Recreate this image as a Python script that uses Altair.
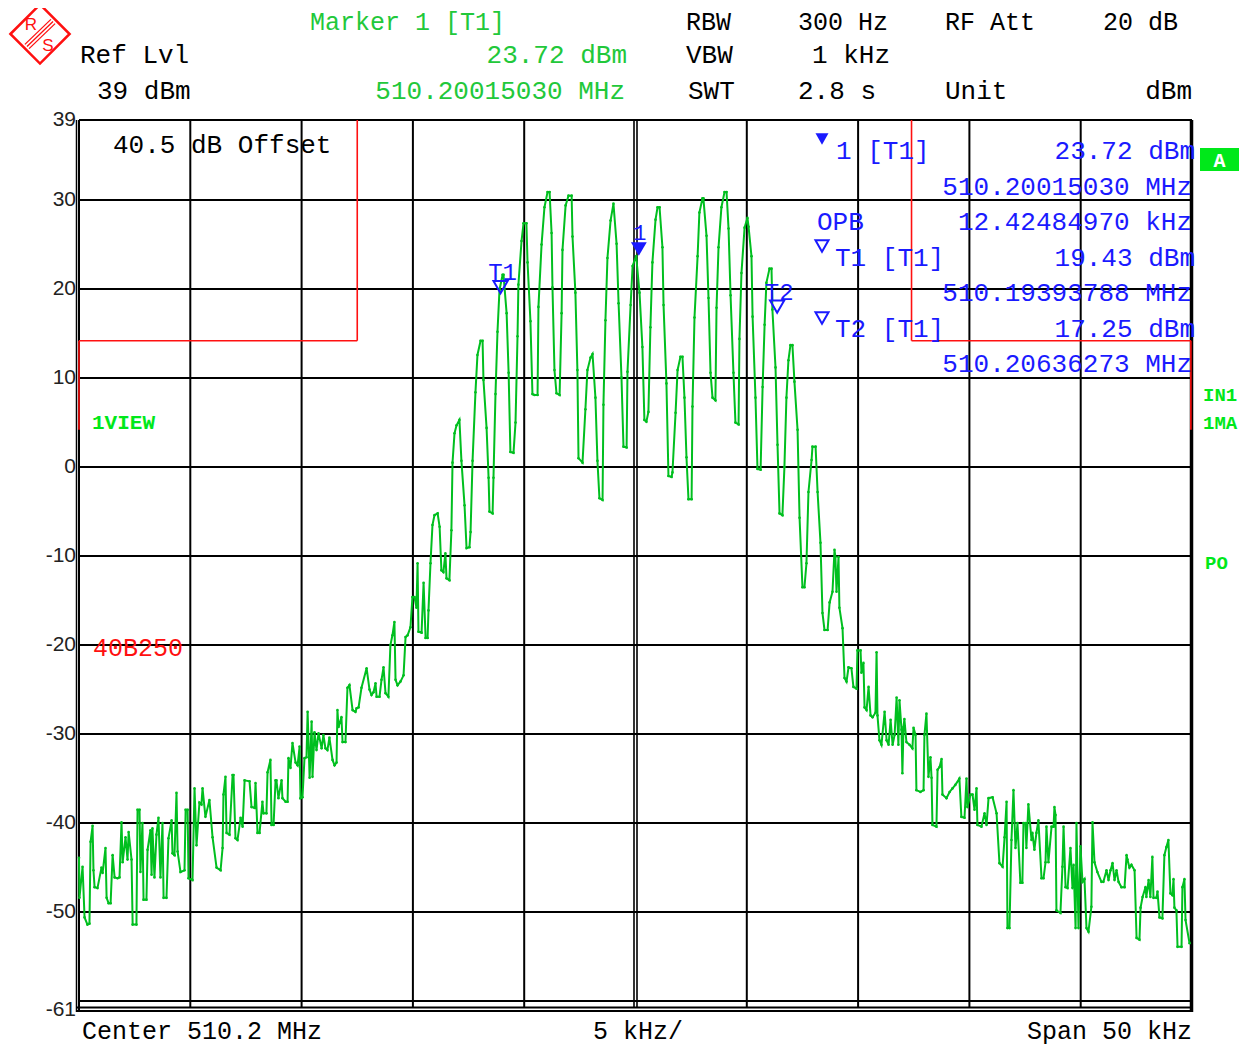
import altair as alt
import pandas as pd

# ---------------- data ----------------
# frequency offset from centre 510.2 MHz (kHz) and trace level (dBm)
freq_khz = [
    -25.00, -24.98, -24.84, -24.75, -24.62, -24.53, -24.48, -24.39, -24.35, -24.30,
    -24.17, -23.99, -23.94, -23.81, -23.76, -23.67, -23.58, -23.49, -23.40, -23.27,
    -23.18, -23.09, -23.04, -22.91, -22.82, -22.77, -22.64, -22.59, -22.42, -22.37,
    -22.28, -22.24, -22.15, -22.10, -21.97, -21.92, -21.79, -21.74, -21.70, -21.61,
    -21.52, -21.43, -21.34, -21.25, -21.20, -21.07, -20.98, -20.84, -20.80, -20.71,
    -20.62, -20.57, -20.44, -20.26, -20.21, -20.12, -20.08, -19.90, -19.81, -19.72,
    -19.59, -19.50, -19.45, -19.32, -19.14, -19.00, -18.82, -18.64, -18.55, -18.51,
    -18.42, -18.37, -18.24, -18.10, -18.06, -17.97, -17.88, -17.74, -17.65, -17.56,
    -17.34, -17.25, -17.11, -17.07, -16.98, -16.89, -16.76, -16.71, -16.58, -16.53,
    -16.40, -16.35, -16.26, -16.17, -16.13, -16.04, -15.90, -15.86, -15.72, -15.63,
    -15.59, -15.50, -15.41, -15.27, -15.18, -15.09, -15.05, -14.96, -14.87, -14.78,
    -14.73, -14.64, -14.55, -14.51, -14.42, -14.33, -14.24, -14.10, -14.02, -13.93,
    -13.84, -13.75, -13.61, -13.52, -13.43, -13.39, -13.34, -13.21, -13.16, -13.03,
    -12.94, -12.85, -12.71, -12.58, -12.53, -12.44, -12.31, -12.08, -11.95, -11.86,
    -11.77, -11.68, -11.63, -11.50, -11.41, -11.32, -11.23, -11.10, -11.01, -10.92,
    -10.83, -10.78, -10.69, -10.56, -10.42, -10.33, -10.24, -10.11, -10.02, -9.93,
    -9.84, -9.79, -9.75, -9.61, -9.52, -9.43, -9.34, -9.30, -9.21, -9.12,
    -9.03, -8.89, -8.80, -8.72, -8.63, -8.54, -8.49, -8.36, -8.27, -8.22,
    -8.13, -8.04, -7.91, -7.82, -7.68, -7.59, -7.46, -7.41, -7.32, -7.19,
    -7.10, -6.96, -6.87, -6.83, -6.69, -6.60, -6.56, -6.42, -6.38, -6.29,
    -6.20, -6.11, -5.97, -5.93, -5.79, -5.70, -5.62, -5.48, -5.39, -5.30,
    -5.26, -5.12, -5.03, -4.90, -4.85, -4.72, -4.63, -4.54, -4.40, -4.36,
    -4.22, -4.09, -3.95, -3.86, -3.77, -3.73, -3.64, -3.55, -3.41, -3.32,
    -3.28, -3.14, -3.01, -2.87, -2.83, -2.70, -2.61, -2.56, -2.38, -2.25,
    -2.16, -2.02, -1.93, -1.80, -1.71, -1.62, -1.48, -1.44, -1.35, -1.26,
    -1.12, -0.99, -0.85, -0.76, -0.63, -0.54, -0.40, -0.36, -0.22, -0.13,
    0.03, 0.18, 0.31, 0.40, 0.49, 0.58, 0.67, 0.76, 0.90, 0.99,
    1.08, 1.21, 1.26, 1.39, 1.48, 1.62, 1.66, 1.80, 1.89, 2.02,
    2.11, 2.20, 2.29, 2.38, 2.52, 2.56, 2.65, 2.79, 2.87, 3.01,
    3.05, 3.19, 3.28, 3.37, 3.46, 3.59, 3.64, 3.73, 3.86, 4.00,
    4.09, 4.18, 4.27, 4.40, 4.49, 4.63, 4.67, 4.76, 4.90, 5.03,
    5.08, 5.21, 5.26, 5.39, 5.48, 5.62, 5.71, 5.80, 5.88, 6.02,
    6.11, 6.15, 6.29, 6.38, 6.47, 6.60, 6.69, 6.78, 6.87, 6.96,
    7.05, 7.14, 7.28, 7.37, 7.50, 7.59, 7.68, 7.77, 7.91, 7.95,
    8.09, 8.18, 8.31, 8.40, 8.49, 8.63, 8.72, 8.85, 8.94, 8.98,
    9.03, 9.12, 9.16, 9.30, 9.39, 9.48, 9.57, 9.70, 9.79, 9.93,
    9.97, 10.11, 10.15, 10.24, 10.29, 10.38, 10.47, 10.56, 10.65, 10.78,
    10.83, 10.87, 10.96, 11.05, 11.19, 11.28, 11.37, 11.46, 11.55, 11.64,
    11.73, 11.81, 11.86, 11.95, 11.99, 12.04, 12.08, 12.17, 12.31, 12.44,
    12.49, 12.58, 12.62, 12.80, 12.94, 12.98, 13.07, 13.16, 13.25, 13.30,
    13.34, 13.52, 13.57, 13.66, 13.75, 13.79, 13.97, 14.11, 14.24, 14.37,
    14.55, 14.64, 14.78, 14.87, 14.91, 15.05, 15.14, 15.23, 15.32, 15.36,
    15.54, 15.68, 15.77, 15.86, 16.04, 16.22, 16.35, 16.49, 16.58, 16.67,
    16.71, 16.80, 16.89, 16.98, 17.07, 17.16, 17.29, 17.38, 17.43, 17.52,
    17.56, 17.65, 17.79, 17.83, 17.92, 18.01, 18.10, 18.24, 18.33, 18.42,
    18.46, 18.55, 18.69, 18.78, 18.82, 18.87, 18.91, 19.09, 19.18, 19.23,
    19.32, 19.41, 19.54, 19.63, 19.68, 19.77, 19.81, 19.90, 19.99, 20.08,
    20.17, 20.26, 20.35, 20.48, 20.53, 20.62, 20.75, 20.93, 21.02, 21.16,
    21.25, 21.34, 21.43, 21.52, 21.61, 21.70, 21.83, 21.97, 22.06, 22.10,
    22.19, 22.28, 22.42, 22.51, 22.64, 22.69, 22.78, 22.91, 22.95, 23.05,
    23.13, 23.22, 23.27, 23.40, 23.45, 23.54, 23.67, 23.76, 23.85, 23.94,
    24.03, 24.12, 24.17, 24.21, 24.30, 24.35, 24.53, 24.57, 24.66, 24.71,
    24.89,
]

level_dbm = [
    -43.9, -48.4, -44.9, -50.6, -51.4, -51.3, -42.1, -40.3, -45.3, -47.2,
    -47.3, -45.0, -45.6, -42.8, -48.4, -49.0, -49.0, -43.6, -46.1, -46.2,
    -46.1, -39.9, -44.4, -41.6, -44.1, -41.0, -44.1, -51.4, -51.4, -38.5,
    -38.5, -45.5, -40.0, -48.6, -48.6, -43.0, -40.8, -45.8, -40.6, -46.1,
    -41.3, -39.4, -46.1, -40.0, -48.4, -48.4, -41.7, -39.7, -43.4, -43.6,
    -36.6, -43.2, -45.5, -45.3, -38.5, -38.5, -46.2, -46.4, -36.1, -42.5,
    -37.7, -37.9, -36.1, -39.3, -37.4, -41.6, -45.0, -45.3, -42.8, -36.8,
    -34.8, -41.1, -41.3, -34.6, -34.6, -41.7, -41.9, -39.4, -40.4, -35.2,
    -35.3, -38.2, -38.3, -35.5, -41.1, -41.1, -37.6, -38.9, -38.9, -34.3,
    -32.9, -40.2, -40.2, -35.2, -35.2, -37.2, -35.2, -37.2, -37.6, -37.6,
    -32.7, -33.8, -31.0, -33.2, -33.5, -31.4, -37.2, -37.1, -32.7, -32.6,
    -27.5, -34.9, -28.6, -34.8, -29.8, -31.8, -29.9, -31.6, -30.1, -31.6,
    -31.8, -30.4, -32.9, -33.5, -33.2, -27.3, -29.2, -28.1, -30.9, -30.9,
    -24.8, -24.5, -27.3, -27.5, -27.1, -27.0, -24.8, -22.6, -25.0, -25.6,
    -25.3, -24.3, -25.8, -25.8, -23.9, -22.5, -25.4, -25.8, -20.0, -18.9,
    -17.4, -23.9, -24.5, -24.1, -23.4, -19.1, -18.9, -18.0, -14.6, -14.6,
    -15.8, -10.8, -18.5, -18.6, -13.0, -19.2, -19.2, -16.1, -10.8, -6.5,
    -5.4, -5.2, -6.7, -11.6, -11.8, -9.7, -12.5, -12.7, -7.1, 0.5,
    3.8, 4.7, 5.3, 0.7, -4.3, -9.1, -9.0, -7.3, 0.7, 8.4,
    12.6, 14.2, 14.2, 9.8, 4.4, -1.2, -5.0, -5.2, -1.2, 8.2,
    15.2, 19.9, 21.6, 21.6, 17.3, 10.6, 1.7, 1.6, 5.0, 14.7,
    20.5, 25.4, 27.4, 27.4, 23.0, 16.4, 8.2, 8.1, 8.1, 18.0,
    25.0, 29.2, 30.9, 30.9, 26.3, 20.2, 10.9, 8.3, 8.1, 17.3,
    24.4, 29.4, 30.5, 30.5, 25.9, 19.6, 10.9, 1.0, 0.5, 6.5,
    10.9, 12.3, 12.7, 7.8, 0.7, -3.5, -3.7, 7.0, 16.5, 23.5,
    27.7, 29.6, 25.1, 18.4, 10.1, 2.3, 2.2, 10.7, 18.2, 22.6,
    23.72, 19.6, 13.5, 5.3, 5.1, 6.2, 15.7, 23.0, 27.8, 29.2,
    29.2, 24.7, 18.2, 9.4, -1.0, -1.1, -0.6, 6.1, 10.9, 12.4,
    12.4, 7.8, 1.1, -3.6, -3.6, 6.8, 16.8, 23.7, 28.6, 30.2,
    30.2, 26.0, 19.0, 10.6, 7.8, 7.5, 17.9, 24.7, 29.2, 30.9,
    30.9, 26.8, 19.3, 10.6, 5.0, 4.8, 14.4, 21.8, 26.9, 28.0,
    27.0, 23.7, 16.9, 7.8, -0.2, -0.3, 9.0, 16.0, 20.7, 22.3,
    22.3, 17.7, 11.2, 2.5, -5.2, -5.4, 0.0, 7.8, 12.0, 13.7,
    13.7, 9.6, 4.2, -5.7, -13.5, -13.5, -10.8, -2.8, 0.8, 2.3,
    2.3, -2.8, -8.5, -16.4, -18.3, -18.3, -15.2, -14.0, -9.3, -10.1,
    -14.0, -10.1, -15.8, -18.1, -23.7, -24.1, -22.5, -22.6, -24.7, -24.9,
    -20.6, -20.6, -23.1, -22.0, -27.0, -27.3, -24.7, -27.9, -28.1, -27.6,
    -20.8, -27.9, -30.7, -31.2, -27.5, -30.7, -31.2, -28.4, -31.2, -30.1,
    -25.9, -31.2, -26.2, -29.5, -34.4, -29.2, -28.3, -30.9, -31.2, -31.6,
    -29.3, -30.1, -36.3, -36.5, -36.3, -30.1, -27.7, -34.8, -32.6, -34.9,
    -40.2, -40.4, -34.0, -33.7, -32.8, -36.8, -37.2, -36.5, -36.1, -35.7,
    -35.0, -39.3, -39.4, -35.0, -38.2, -36.8, -36.8, -38.5, -36.1, -40.2,
    -40.4, -38.9, -40.2, -37.2, -37.1, -38.9, -44.5, -44.9, -41.6, -37.6,
    -51.8, -51.8, -41.9, -36.3, -42.8, -40.0, -46.7, -46.7, -40.0, -40.0,
    -42.8, -37.9, -41.9, -41.1, -43.0, -41.1, -39.7, -46.2, -46.2, -44.4,
    -40.4, -44.4, -40.4, -40.4, -38.2, -39.1, -49.8, -50.1, -44.9, -40.4,
    -47.2, -47.3, -42.8, -47.3, -44.7, -51.8, -40.0, -51.8, -42.6, -46.6,
    -46.3, -51.8, -52.2, -49.4, -39.9, -44.4, -45.5, -46.6, -46.6, -45.3,
    -46.4, -45.3, -44.5, -46.4, -45.3, -46.6, -47.2, -47.2, -43.6, -44.1,
    -45.0, -44.7, -45.3, -52.9, -53.1, -49.5, -48.3, -47.2, -48.3, -46.4,
    -48.3, -43.8, -48.4, -48.4, -47.7, -50.6, -50.7, -43.6, -42.7, -41.9,
    -47.9, -48.1, -46.3, -49.5, -49.8, -53.9, -53.9, -47.2, -46.3, -50.9,
    -53.5,
]

# axis / grid values
y_tick_values = [39, 30, 20, 10, 0, -10, -20, -30, -40, -50, -61]
y_tick_labels = ["39", "30", "20", "10", "0", "-10", "-20", "-30", "-40", "-50", "-61"]
h_grid_levels = [30, 20, 10, 0, -10, -20, -30, -40, -50, -60]
v_grid_freqs = [-20, -15, -10, -5, 5, 10, 15, 20]

# markers (1, T1, T2)
marker_names = ["1", "T1", "T2"]
marker_freqs = [0.1503, -6.06212, 6.36273]
marker_levels = [23.72, 19.43, 17.25]

# red display-line segments (kHz, dBm)
red_x1 = [-25.0, -12.5, -25.0, 12.4, 12.4, 24.95]
red_x2 = [-12.5, -12.5, -25.0, 12.4, 24.95, 24.95]
red_y1 = [14.2, 39.0, 14.2, 39.0, 14.2, 14.2]
red_y2 = [14.2, 14.2, 4.2, 14.2, 14.2, 4.2]

# ---------------- styling ----------------
W, H = 1113, 890
MONO = "Liberation Mono"
SANS = "Liberation Sans"
TRACE_GREEN = "#00bf1f"
TEXT_GREEN = "#22c83a"
BRIGHT_GREEN = "#00e81a"
BLUE = "#1a1aff"
RED = "#ff1010"

xs = alt.Scale(domain=[-25, 25], nice=False, zero=False)
ys = alt.Scale(domain=[-61, 39], nice=False, zero=False)

one = pd.DataFrame({"k": [0]})


def txt(s, x, y, color="black", size=26, align="left", font=MONO, weight="normal"):
    return alt.Chart(pd.DataFrame({"t": [s]})).mark_text(
        align=align, baseline="middle", font=font, fontSize=size,
        color=color, fontWeight=weight
    ).encode(x=alt.value(x), y=alt.value(y), text="t:N")


def seg(x1, y1, x2, y2, color="black", width=2.0):
    return alt.Chart(one).mark_rule(color=color, strokeWidth=width).encode(
        x=alt.value(x1), y=alt.value(y1), x2=alt.value(x2), y2=alt.value(y2))


layers = []

# grid
layers.append(alt.Chart(pd.DataFrame({"lvl": h_grid_levels})).mark_rule(
    color="black", strokeWidth=2).encode(
    y=alt.Y("lvl:Q", scale=ys, axis=None), x=alt.value(0), x2=alt.value(W)))
layers.append(alt.Chart(pd.DataFrame({"f": v_grid_freqs})).mark_rule(
    color="black", strokeWidth=2).encode(
    x=alt.X("f:Q", scale=xs, axis=None), y=alt.value(0), y2=alt.value(888)))
for off in (-1.5, 1.5):
    layers.append(alt.Chart(pd.DataFrame({"f": [0.0]})).mark_rule(
        color="black", strokeWidth=1.6, xOffset=off).encode(
        x=alt.X("f:Q", scale=xs, axis=None), y=alt.value(0), y2=alt.value(888)))

# frame
layers += [
    seg(0, 0, W, 0, width=2),
    seg(0, 0, 0, 892, width=2),
    seg(-2.5, 0, -2.5, 892, width=1.5),
    seg(W - 0.5, 0, W - 0.5, 892, width=3.5),
    seg(-2.5, 887.5, W, 887.5, width=2),
    seg(-2.5, 891, W, 891, width=2),
]

# red display lines
red_df = pd.DataFrame({"x1": red_x1, "x2": red_x2, "y1": red_y1, "y2": red_y2})
layers.append(alt.Chart(red_df).mark_rule(color=RED, strokeWidth=1.6).encode(
    x=alt.X("x1:Q", scale=xs, axis=None), x2="x2:Q",
    y=alt.Y("y1:Q", scale=ys, axis=None), y2="y2:Q"))

# y tick labels
layers.append(alt.Chart(pd.DataFrame({"v": y_tick_values, "lab": y_tick_labels})).mark_text(
    align="right", baseline="middle", font=SANS, fontSize=21, color="#222222").encode(
    y=alt.Y("v:Q", scale=ys, axis=None), x=alt.value(-3), text="lab:N"))

# trace
trace_df = pd.DataFrame({"idx": list(range(len(freq_khz))), "f": freq_khz, "lvl": level_dbm})
layers.append(alt.Chart(trace_df).mark_line(
    color=TRACE_GREEN, strokeWidth=2,
    point=alt.OverlayMarkDef(color=TRACE_GREEN, size=7, filled=True)).encode(
    x=alt.X("f:Q", scale=xs, axis=None),
    y=alt.Y("lvl:Q", scale=ys, axis=None),
    order="idx:Q"))

# markers on trace
mk = pd.DataFrame({"name": marker_names, "f": marker_freqs, "lvl": marker_levels})
layers.append(alt.Chart(mk.iloc[[0]]).mark_point(
    shape="triangle-down", filled=True, color=BLUE, size=250, opacity=1, yOffset=-7).encode(
    x=alt.X("f:Q", scale=xs, axis=None), y=alt.Y("lvl:Q", scale=ys, axis=None)))
layers.append(alt.Chart(mk.iloc[[1, 2]]).mark_point(
    shape="triangle-down", filled=False, color=BLUE, size=200, strokeWidth=2, opacity=1,
    yOffset=-7).encode(
    x=alt.X("f:Q", scale=xs, axis=None), y=alt.Y("lvl:Q", scale=ys, axis=None)))
layers.append(alt.Chart(mk.iloc[[0]]).mark_text(
    font=MONO, fontSize=22, color=BLUE, dx=1, dy=-23, baseline="middle").encode(
    x=alt.X("f:Q", scale=xs, axis=None), y=alt.Y("lvl:Q", scale=ys, axis=None), text="name:N"))
layers.append(alt.Chart(mk.iloc[[1, 2]]).mark_text(
    font=MONO, fontSize=24, color=BLUE, dx=2, dy=-21, baseline="middle").encode(
    x=alt.X("f:Q", scale=xs, axis=None), y=alt.Y("lvl:Q", scale=ys, axis=None), text="name:N"))

# marker info block (blue)
layers.append(alt.Chart(one).mark_point(shape="triangle-down", filled=True, color=BLUE,
                                        size=170, opacity=1).encode(x=alt.value(743), y=alt.value(19)))
for yy in (126, 198):
    layers.append(alt.Chart(one).mark_point(shape="triangle-down", filled=False, color=BLUE,
                                            size=170, strokeWidth=2, opacity=1).encode(
        x=alt.value(743), y=alt.value(yy)))
layers += [
    txt("1 [T1]", 757, 31, BLUE),
    txt("23.72 dBm", 1116, 31, BLUE, align="right"),
    txt("510.20015030 MHz", 1113, 67, BLUE, align="right"),
    txt("OPB", 738, 102, BLUE),
    txt("12.42484970 kHz", 1113, 102, BLUE, align="right"),
    txt("T1 [T1]", 756, 138, BLUE),
    txt("19.43 dBm", 1116, 138, BLUE, align="right"),
    txt("510.19393788 MHz", 1113, 173, BLUE, align="right"),
    txt("T2 [T1]", 756, 209, BLUE),
    txt("17.25 dBm", 1116, 209, BLUE, align="right"),
    txt("510.20636273 MHz", 1113, 244, BLUE, align="right"),
]

# in-plot labels
layers += [
    txt("40.5 dB Offset", 34, 25, "black"),
    txt("1VIEW", 13, 303, BRIGHT_GREEN, size=21, weight="bold"),
    txt("40B250", 14, 528, RED, size=25),
]

# right side status labels
layers.append(alt.Chart(one).mark_rect(color=BRIGHT_GREEN).encode(
    x=alt.value(1121), x2=alt.value(1160), y=alt.value(28), y2=alt.value(51)))
layers += [
    txt("A", 1140.5, 41, "white", size=20, align="center", weight="bold"),
    txt("IN1", 1124, 275, BRIGHT_GREEN, size=19, weight="bold"),
    txt("1MA", 1124, 303, BRIGHT_GREEN, size=19, weight="bold"),
    txt("PO", 1126, 443, BRIGHT_GREEN, size=19, weight="bold"),
]

# header
layers += [
    txt("Marker 1 [T1]", 231, -98, TEXT_GREEN, size=25),
    txt("RBW", 607, -98, size=25), txt("300 Hz", 719, -98, size=25),
    txt("RF Att", 866, -98, size=25), txt("20 dB", 1024, -98, size=25),
    txt("Ref Lvl", 1, -65),
    txt("23.72 dBm", 548, -65, TEXT_GREEN, align="right"),
    txt("VBW", 607, -65), txt("1 kHz", 811, -65, align="right"),
    txt("39 dBm", 18, -29),
    txt("510.20015030 MHz", 546, -29, TEXT_GREEN, align="right"),
    txt("SWT", 609, -29), txt("2.8 s", 719, -29),
    txt("Unit", 866, -29), txt("dBm", 1113, -29, align="right"),
]

# footer
layers += [
    txt("Center 510.2 MHz", 3, 911, size=25),
    txt("5 kHz/", 514, 911, size=25),
    txt("Span 50 kHz", 1113, 911, size=25, align="right"),
]

# R&S logo
layers.append(alt.Chart(one).mark_point(shape="diamond", filled=False, color=RED, size=3500,
                                        strokeWidth=2.5, opacity=1).encode(
    x=alt.value(-39), y=alt.value(-86)))
layers += [
    seg(-54.1, -75.6, -28.1, -100.6, RED, 1.3),
    seg(-52.0, -73.5, -26.0, -98.5, RED, 1.3),
    seg(-49.9, -71.4, -23.9, -96.4, RED, 1.3),
    txt("R", -48, -95, RED, size=17, align="center", font=SANS),
    txt("S", -31, -74, RED, size=17, align="center", font=SANS),
]

chart = alt.layer(*layers).properties(
    width=W, height=H,
    padding={"left": 71, "top": 112, "right": 48, "bottom": 37},
    autosize=alt.AutoSizeParams(type="none"),
).configure_view(strokeWidth=0)

chart.save("out.html", embed_options={"renderer": "svg", "actions": False})
